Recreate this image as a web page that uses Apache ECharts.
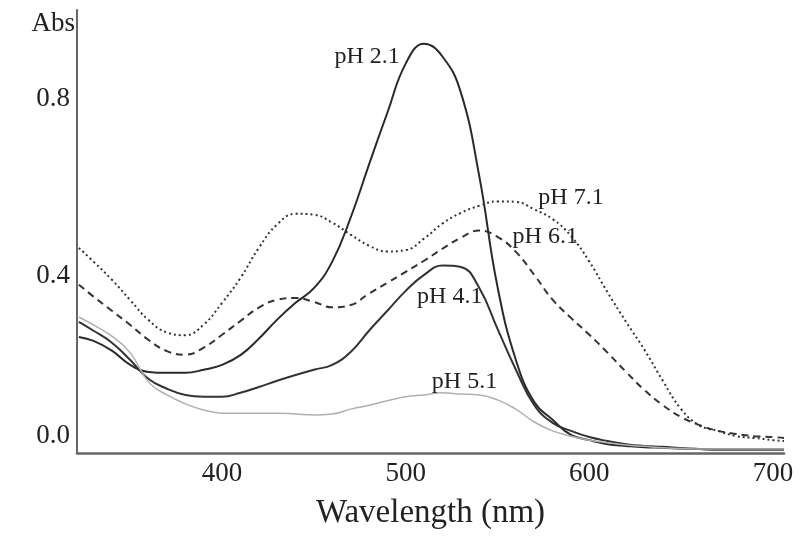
<!DOCTYPE html>
<html>
<head>
<meta charset="utf-8">
<style>
  html, body { margin: 0; padding: 0; background: #fff; }
  #chart { width: 799px; height: 538px; }
</style>
<script src="https://cdn.jsdelivr.net/npm/echarts@6/dist/echarts.min.js"></script>
</head>
<body>
<div id="chart"></div>
<script>
// wavelength (nm)
const wavelengths = [322, 330, 340, 350, 360, 370, 380, 390, 400, 410, 420, 430, 440, 450, 460, 470, 480, 490, 500, 510,
  520, 530, 540, 550, 560, 570, 580, 590, 600, 610, 620, 630, 640, 650, 660, 670, 680, 690, 700, 706]

// absorbance
const ph21 = [0.262, 0.253, 0.231, 0.199, 0.183, 0.181, 0.181, 0.188, 0.199, 0.221, 0.258, 0.301, 0.339, 0.372, 0.432, 0.531, 0.651, 0.768, 0.879, 0.924,
  0.895, 0.814, 0.626, 0.375, 0.210, 0.115, 0.075, 0.041, 0.029, 0.020, 0.016, 0.013, 0.012, 0.010, 0.009, 0.008, 0.008, 0.008, 0.008, 0.008]
const ph41 = [0.296, 0.276, 0.249, 0.210, 0.167, 0.145, 0.131, 0.127, 0.127, 0.136, 0.149, 0.163, 0.176, 0.188, 0.199, 0.228, 0.276, 0.321, 0.366, 0.402,
  0.423, 0.420, 0.373, 0.280, 0.188, 0.108, 0.068, 0.050, 0.036, 0.027, 0.020, 0.016, 0.014, 0.011, 0.009, 0.008, 0.008, 0.008, 0.008, 0.008]
const ph51 = [0.307, 0.289, 0.264, 0.226, 0.160, 0.131, 0.111, 0.097, 0.090, 0.090, 0.090, 0.090, 0.088, 0.086, 0.088, 0.099, 0.108, 0.118, 0.127, 0.131,
  0.136, 0.133, 0.131, 0.120, 0.099, 0.070, 0.050, 0.038, 0.029, 0.023, 0.018, 0.015, 0.012, 0.010, 0.009, 0.009, 0.009, 0.009, 0.009, 0.009]
const ph61 = [0.380, 0.353, 0.321, 0.289, 0.255, 0.230, 0.222, 0.238, 0.267, 0.298, 0.328, 0.346, 0.350, 0.341, 0.329, 0.334, 0.360, 0.384, 0.409, 0.434,
  0.461, 0.486, 0.502, 0.488, 0.454, 0.402, 0.346, 0.305, 0.267, 0.226, 0.183, 0.142, 0.108, 0.081, 0.063, 0.050, 0.043, 0.038, 0.036, 0.034]
const ph71 = [0.463, 0.432, 0.391, 0.345, 0.300, 0.272, 0.266, 0.290, 0.339, 0.395, 0.463, 0.516, 0.540, 0.538, 0.520, 0.493, 0.468, 0.455, 0.458, 0.484,
  0.518, 0.542, 0.558, 0.568, 0.567, 0.550, 0.528, 0.490, 0.432, 0.362, 0.296, 0.233, 0.163, 0.099, 0.062, 0.050, 0.038, 0.034, 0.029, 0.027]

const xTicks = [400, 500, 600, 700]
const yTicks = [0, 0.4, 0.8]

// curve labels, in data units [wavelength, abs]
const labelNames = ['pH 2.1', 'pH 4.1', 'pH 5.1', 'pH 6.1', 'pH 7.1']
const labelAt = [[479, 0.895], [524, 0.353], [532, 0.160], [576, 0.488], [590, 0.576]]

const font = '"Liberation Serif", "DejaVu Serif", serif'

function pairs(ys) {
  return wavelengths.map((w, i) => [w, ys[i]])
}

function curve(name, ys, idx, style) {
  return {
    name: name,
    type: 'line',
    data: pairs(ys),
    smooth: 0.45,
    showSymbol: false,
    silent: true,
    lineStyle: style,
    markPoint: {
      symbol: 'circle',
      symbolSize: 0,
      silent: true,
      data: [{ coord: labelAt[idx], value: labelNames[idx] }],
      label: {
        show: true,
        position: 'inside',
        formatter: labelNames[idx],
        color: '#222',
        fontFamily: font,
        fontSize: 24
      }
    }
  }
}

const chart = echarts.init(document.getElementById('chart'))

chart.setOption({
  backgroundColor: '#fff',
  animation: false,
  grid: { left: 77, right: 15, top: 10, bottom: 85 },
  xAxis: {
    type: 'value',
    min: 321,
    max: 706,
    name: 'Wavelength (nm)',
    nameLocation: 'middle',
    nameGap: 44,
    nameTextStyle: { color: '#222', fontFamily: font, fontSize: 33 },
    axisLine: { show: true, lineStyle: { color: '#666', width: 2.5 } },
    axisTick: { show: false },
    splitLine: { show: false },
    axisLabel: {
      customValues: xTicks,
      color: '#222',
      fontFamily: font,
      fontSize: 27,
      margin: 7
    }
  },
  yAxis: {
    type: 'value',
    min: 0,
    max: 1.0,
    name: 'Abs',
    nameLocation: 'end',
    nameGap: -14,
    nameTextStyle: {
      color: '#222',
      fontFamily: font,
      fontSize: 27,
      align: 'right',
      verticalAlign: 'middle',
      padding: [0, 2, 0, 0]
    },
    axisLine: { show: true, lineStyle: { color: '#666', width: 2 } },
    axisTick: { show: false },
    splitLine: { show: false },
    axisLabel: {
      customValues: yTicks,
      formatter: v => (v === 0 ? '{up|0.0}' : v.toFixed(1)),
      rich: {
        up: { fontFamily: font, fontSize: 27, color: '#222', padding: [0, 0, 34, 0] }
      },
      color: '#222',
      fontFamily: font,
      fontSize: 27,
      margin: 7
    }
  },
  series: [
    curve('pH 2.1', ph21, 0, { color: '#2a2a2a', width: 2 }),
    curve('pH 4.1', ph41, 1, { color: '#333', width: 2 }),
    curve('pH 5.1', ph51, 2, { color: '#b0b0b0', width: 1.5 }),
    curve('pH 6.1', ph61, 3, { color: '#333', width: 2, type: [7, 5] }),
    curve('pH 7.1', ph71, 4, { color: '#333', width: 2, type: [2, 3] })
  ]
})
</script>
</body>
</html>
